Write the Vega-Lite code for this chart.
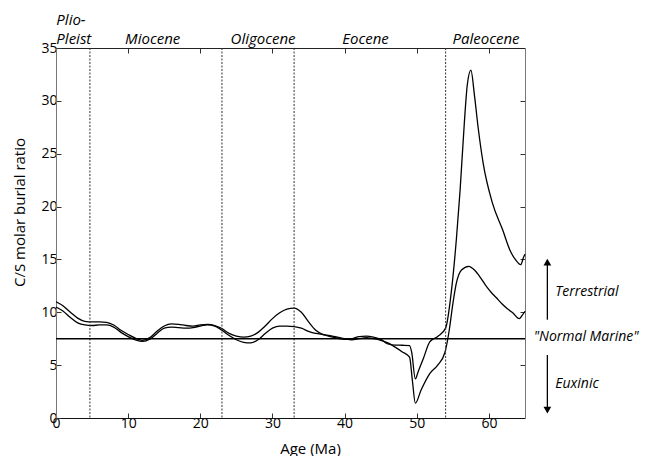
{
  "$schema": "https://vega.github.io/schema/vega-lite/v6.json",
  "width": 469,
  "height": 370,
  "autosize": {"type": "none"},
  "padding": {"left": 56, "top": 48, "right": 120, "bottom": 38},
  "background": "white",
  "config": {
    "view": {"stroke": null},
    "font": "Open Sans",
    "axis": {
      "grid": false,
      "labelFont": "Open Sans",
      "labelFontSize": 14,
      "labelColor": "black",
      "titleFont": "Open Sans",
      "titleFontSize": 15,
      "titleFontWeight": "normal",
      "titleColor": "black",
      "domainColor": "#333",
      "tickColor": "#333",
      "tickSize": -5,
      "labelFlush": false
    }
  },
  "resolve": {"axis": {"x": "independent", "y": "independent"}},
  "layer": [
    {
      "data": {"values": [
        {"series": "A", "age": 0, "value": 11.0},
        {"series": "A", "age": 1, "value": 10.6},
        {"series": "A", "age": 2, "value": 10.0},
        {"series": "A", "age": 3, "value": 9.45},
        {"series": "A", "age": 4, "value": 9.15},
        {"series": "A", "age": 5, "value": 9.1},
        {"series": "A", "age": 6, "value": 9.1},
        {"series": "A", "age": 7, "value": 9.05},
        {"series": "A", "age": 8, "value": 8.8},
        {"series": "A", "age": 9, "value": 8.3},
        {"series": "A", "age": 10, "value": 7.9},
        {"series": "A", "age": 11, "value": 7.55},
        {"series": "A", "age": 12, "value": 7.35},
        {"series": "A", "age": 13, "value": 7.6},
        {"series": "A", "age": 14, "value": 8.2},
        {"series": "A", "age": 15, "value": 8.7},
        {"series": "A", "age": 16, "value": 8.9},
        {"series": "A", "age": 17, "value": 8.85},
        {"series": "A", "age": 18, "value": 8.75},
        {"series": "A", "age": 19, "value": 8.7},
        {"series": "A", "age": 20, "value": 8.8},
        {"series": "A", "age": 21, "value": 8.85},
        {"series": "A", "age": 22, "value": 8.75},
        {"series": "A", "age": 23, "value": 8.45},
        {"series": "A", "age": 24, "value": 8.0},
        {"series": "A", "age": 25, "value": 7.75},
        {"series": "A", "age": 26, "value": 7.65},
        {"series": "A", "age": 27, "value": 7.75},
        {"series": "A", "age": 28, "value": 8.1},
        {"series": "A", "age": 29, "value": 8.7},
        {"series": "A", "age": 30, "value": 9.4},
        {"series": "A", "age": 31, "value": 9.95},
        {"series": "A", "age": 32, "value": 10.3},
        {"series": "A", "age": 33, "value": 10.4},
        {"series": "A", "age": 34, "value": 10.0},
        {"series": "A", "age": 35, "value": 9.1},
        {"series": "A", "age": 36, "value": 8.3},
        {"series": "A", "age": 37, "value": 7.9},
        {"series": "A", "age": 38, "value": 7.7},
        {"series": "A", "age": 39, "value": 7.55},
        {"series": "A", "age": 40, "value": 7.45},
        {"series": "A", "age": 41, "value": 7.5},
        {"series": "A", "age": 42, "value": 7.7},
        {"series": "A", "age": 43, "value": 7.75},
        {"series": "A", "age": 44, "value": 7.65},
        {"series": "A", "age": 45, "value": 7.45},
        {"series": "A", "age": 46, "value": 7.0},
        {"series": "A", "age": 47, "value": 6.9},
        {"series": "A", "age": 48, "value": 6.88},
        {"series": "A", "age": 49, "value": 6.85},
        {"series": "A", "age": 49.3, "value": 6.2},
        {"series": "A", "age": 49.8, "value": 3.7},
        {"series": "A", "age": 50.2, "value": 4.4},
        {"series": "A", "age": 50.9, "value": 5.6},
        {"series": "A", "age": 51.8, "value": 7.2},
        {"series": "A", "age": 52.9, "value": 7.7},
        {"series": "A", "age": 54.0, "value": 8.5},
        {"series": "A", "age": 54.8, "value": 12.0},
        {"series": "A", "age": 55.5, "value": 17.0},
        {"series": "A", "age": 56.0, "value": 21.5},
        {"series": "A", "age": 56.6, "value": 28.0},
        {"series": "A", "age": 57.0, "value": 31.5},
        {"series": "A", "age": 57.5, "value": 32.9},
        {"series": "A", "age": 58.0, "value": 30.5},
        {"series": "A", "age": 58.5, "value": 27.5},
        {"series": "A", "age": 59.2, "value": 24.1},
        {"series": "A", "age": 60.5, "value": 20.3},
        {"series": "A", "age": 61.9, "value": 17.8},
        {"series": "A", "age": 62.9, "value": 15.9},
        {"series": "A", "age": 63.7, "value": 14.95},
        {"series": "A", "age": 64.4, "value": 14.5},
        {"series": "A", "age": 64.8, "value": 15.2},
        {"series": "A", "age": 65, "value": 15.5},
        {"series": "B", "age": 0, "value": 10.5},
        {"series": "B", "age": 1, "value": 10.1},
        {"series": "B", "age": 2, "value": 9.5},
        {"series": "B", "age": 3, "value": 9.0},
        {"series": "B", "age": 4, "value": 8.8},
        {"series": "B", "age": 5, "value": 8.75},
        {"series": "B", "age": 6, "value": 8.8},
        {"series": "B", "age": 7, "value": 8.8},
        {"series": "B", "age": 8, "value": 8.6},
        {"series": "B", "age": 9, "value": 8.1},
        {"series": "B", "age": 10, "value": 7.7},
        {"series": "B", "age": 11, "value": 7.4},
        {"series": "B", "age": 12, "value": 7.25},
        {"series": "B", "age": 13, "value": 7.45},
        {"series": "B", "age": 14, "value": 8.0},
        {"series": "B", "age": 15, "value": 8.5},
        {"series": "B", "age": 16, "value": 8.6},
        {"series": "B", "age": 17, "value": 8.55},
        {"series": "B", "age": 18, "value": 8.5},
        {"series": "B", "age": 19, "value": 8.55},
        {"series": "B", "age": 20, "value": 8.7},
        {"series": "B", "age": 21, "value": 8.8},
        {"series": "B", "age": 22, "value": 8.7},
        {"series": "B", "age": 23, "value": 8.3},
        {"series": "B", "age": 24, "value": 7.8},
        {"series": "B", "age": 25, "value": 7.4},
        {"series": "B", "age": 26, "value": 7.15},
        {"series": "B", "age": 27, "value": 7.1},
        {"series": "B", "age": 28, "value": 7.4},
        {"series": "B", "age": 29, "value": 8.0},
        {"series": "B", "age": 30, "value": 8.5},
        {"series": "B", "age": 31, "value": 8.7},
        {"series": "B", "age": 32, "value": 8.7},
        {"series": "B", "age": 33, "value": 8.65},
        {"series": "B", "age": 34, "value": 8.5},
        {"series": "B", "age": 35, "value": 8.2},
        {"series": "B", "age": 36, "value": 8.0},
        {"series": "B", "age": 37, "value": 7.9},
        {"series": "B", "age": 38, "value": 7.8},
        {"series": "B", "age": 39, "value": 7.65},
        {"series": "B", "age": 40, "value": 7.5},
        {"series": "B", "age": 41, "value": 7.4},
        {"series": "B", "age": 42, "value": 7.5},
        {"series": "B", "age": 43, "value": 7.6},
        {"series": "B", "age": 44, "value": 7.5},
        {"series": "B", "age": 45, "value": 7.35},
        {"series": "B", "age": 46, "value": 7.1},
        {"series": "B", "age": 47, "value": 6.7},
        {"series": "B", "age": 48, "value": 6.25},
        {"series": "B", "age": 49, "value": 5.75},
        {"series": "B", "age": 49.4, "value": 3.5},
        {"series": "B", "age": 49.8, "value": 1.4},
        {"series": "B", "age": 50.6, "value": 2.65},
        {"series": "B", "age": 51.8, "value": 4.2},
        {"series": "B", "age": 52.9, "value": 5.0},
        {"series": "B", "age": 53.9, "value": 6.2},
        {"series": "B", "age": 54.5, "value": 8.3},
        {"series": "B", "age": 55.0, "value": 10.8},
        {"series": "B", "age": 55.5, "value": 12.8},
        {"series": "B", "age": 56.2, "value": 14.0},
        {"series": "B", "age": 57.2, "value": 14.35},
        {"series": "B", "age": 58.0, "value": 14.0},
        {"series": "B", "age": 58.7, "value": 13.4},
        {"series": "B", "age": 59.5, "value": 12.6},
        {"series": "B", "age": 60.3, "value": 11.9},
        {"series": "B", "age": 61.0, "value": 11.4},
        {"series": "B", "age": 61.8, "value": 10.8},
        {"series": "B", "age": 62.6, "value": 10.3},
        {"series": "B", "age": 63.3, "value": 9.95},
        {"series": "B", "age": 64.2, "value": 9.4},
        {"series": "B", "age": 64.6, "value": 9.7},
        {"series": "B", "age": 65, "value": 10.1}
      ]},
      "mark": {"type": "line", "color": "black", "strokeWidth": 1.3, "interpolate": "monotone"},
      "encoding": {
        "x": {"field": "age", "type": "quantitative",
              "scale": {"domain": [0, 65], "nice": false, "zero": false},
              "axis": {"orient": "bottom", "title": "Age (Ma)", "values": [0, 10, 20, 30, 40, 50, 60],
                       "labelPadding": 3, "titleX": 254, "titleY": 30, "titleBaseline": "middle",
                       "domainColor": "#111", "titlePadding": 0}},
        "y": {"field": "value", "type": "quantitative",
              "scale": {"domain": [0, 35], "nice": false, "zero": false},
              "axis": {"orient": "left", "title": "C/S molar burial ratio", "values": [0, 5, 10, 15, 20, 25, 30, 35],
                       "labelPadding": 4, "titleX": -37, "titleY": 164, "titleBaseline": "middle",
                       "titleAngle": -90, "titleAlign": "center", "domainColor": "#777"}},
        "detail": {"field": "series", "type": "nominal"}
      }
    },
    {
      "data": {"values": [{"age": 4.7}, {"age": 23}, {"age": 33}, {"age": 54}]},
      "mark": {"type": "rule", "color": "#333", "strokeWidth": 1, "strokeDash": [2, 1.5]},
      "encoding": {
        "x": {"field": "age", "type": "quantitative",
              "axis": {"orient": "top", "labels": false, "title": null, "values": [10, 20, 30, 40, 50, 60], "domainColor": "#222"}}
      }
    },
    {
      "data": {"values": [{"value": 7.5}]},
      "mark": {"type": "rule", "color": "black", "strokeWidth": 1.6},
      "encoding": {
        "y": {"field": "value", "type": "quantitative",
              "axis": {"orient": "right", "labels": false, "title": null, "values": [5, 10, 15, 20, 25, 30], "domainColor": "#777"}}
      }
    },
    {
      "data": {"values": [
        {"label": "Plio-", "age": 0.05, "value": 37.65},
        {"label": "Pleist", "age": 0.05, "value": 35.85}
      ]},
      "mark": {"type": "text", "font": "Open Sans", "fontStyle": "italic", "fontSize": 15, "align": "left", "baseline": "middle", "color": "black"},
      "encoding": {
        "x": {"field": "age", "type": "quantitative", "axis": null},
        "y": {"field": "value", "type": "quantitative", "axis": null},
        "text": {"field": "label"}
      }
    },
    {
      "data": {"values": [
        {"label": "Miocene", "age": 13.4, "value": 35.85},
        {"label": "Oligocene", "age": 28.7, "value": 35.85},
        {"label": "Eocene", "age": 42.9, "value": 35.85},
        {"label": "Paleocene", "age": 59.6, "value": 35.85}
      ]},
      "mark": {"type": "text", "font": "Open Sans", "fontStyle": "italic", "fontSize": 15, "align": "center", "baseline": "middle", "color": "black"},
      "encoding": {
        "x": {"field": "age", "type": "quantitative", "axis": null},
        "y": {"field": "value", "type": "quantitative", "axis": null},
        "text": {"field": "label"}
      }
    },
    {
      "data": {"values": [
        {"label": "Terrestrial", "age": 69.2, "value": 11.95},
        {"label": "\"Normal Marine\"", "age": 66.2, "value": 7.65},
        {"label": "Euxinic", "age": 69.2, "value": 3.2}
      ]},
      "mark": {"type": "text", "font": "Open Sans", "fontStyle": "italic", "fontSize": 14, "align": "left", "baseline": "middle", "color": "black"},
      "encoding": {
        "x": {"field": "age", "type": "quantitative", "axis": null},
        "y": {"field": "value", "type": "quantitative", "axis": null},
        "text": {"field": "label"}
      }
    },
    {
      "data": {"values": [
        {"age": 68.1, "from": 9.3, "to": 14.6},
        {"age": 68.1, "from": 5.96, "to": 0.9}
      ]},
      "mark": {"type": "rule", "color": "black", "strokeWidth": 1.3},
      "encoding": {
        "x": {"field": "age", "type": "quantitative", "axis": null},
        "y": {"field": "from", "type": "quantitative", "axis": null},
        "y2": {"field": "to"}
      }
    },
    {
      "data": {"values": [
        {"age": 68.1, "value": 14.75, "dir": "up"},
        {"age": 68.1, "value": 0.75, "dir": "down"}
      ]},
      "mark": {"type": "point", "filled": true, "color": "black", "opacity": 1, "size": 60},
      "encoding": {
        "x": {"field": "age", "type": "quantitative", "axis": null},
        "y": {"field": "value", "type": "quantitative", "axis": null},
        "shape": {"field": "dir", "type": "nominal", "legend": null,
                  "scale": {"domain": ["up", "down"], "range": ["triangle-up", "triangle-down"]}}
      }
    }
  ]
}
